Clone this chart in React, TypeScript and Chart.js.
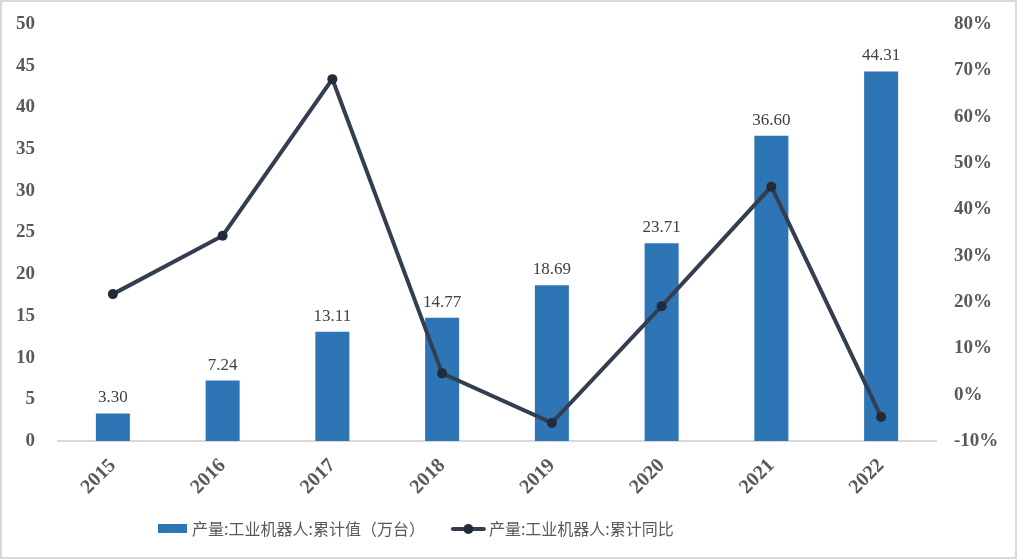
import React, { useEffect, useRef } from 'react';
import { Chart, registerables } from 'chart.js';

Chart.register(...registerables);

const years = ['2015', '2016', '2017', '2018', '2019', '2020', '2021', '2022'];
const output = [3.3, 7.24, 13.11, 14.77, 18.69, 23.71, 36.6, 44.31];
const yoy = [21.7, 34.3, 68.1, 4.6, -6.1, 19.1, 44.9, -4.8];
const barLabel = '产量:工业机器人:累计值（万台）';
const lineLabel = '产量:工业机器人:累计同比';
const leftMin = 0;
const leftMax = 50;
const leftStep = 5;
const rightMin = -10;
const rightMax = 80;
const rightStep = 10;

const BAR_COLOR = '#2E75B6';
const LINE_COLOR = '#333F50';
const DOT_COLOR = '#232B38';
const TEXT_COLOR = '#595959';
const serif = "'Liberation Serif', 'Times New Roman', serif";
const tickFont = { family: serif, size: 19, weight: 'bold' as const };
const xTickFont = { family: serif, size: 20, weight: 'bold' as const };

const borderPlugin = {
  id: 'frame',
  beforeDraw(chart: any) {
    const { ctx, width, height } = chart;
    ctx.save();
    ctx.fillStyle = '#FFFFFF';
    ctx.fillRect(0, 0, width, height);
    ctx.strokeStyle = '#D9D9D9';
    ctx.lineWidth = 2;
    ctx.strokeRect(1, 1, width - 2, height - 2);
    ctx.restore();
  },
};

const labelPlugin = {
  id: 'barLabels',
  afterDatasetsDraw(chart: any) {
    const { ctx } = chart;
    const idx = chart.data.datasets.findIndex((d: any) => d.type === 'bar');
    const meta = chart.getDatasetMeta(idx);
    ctx.save();
    ctx.font = `17px ${serif}`;
    ctx.fillStyle = '#404040';
    ctx.textAlign = 'center';
    ctx.textBaseline = 'bottom';
    meta.data.forEach((el: any, i: number) => {
      const v = chart.data.datasets[idx].data[i] as number;
      ctx.fillText(v.toFixed(2), el.x, el.y - 7);
    });
    ctx.restore();
  },
};

const legendPlugin = {
  id: 'customLegend',
  afterDraw(chart: any) {
    const { ctx } = chart;
    const y = 529;
    let x = 158;
    ctx.save();
    ctx.font = "16px 'Noto Sans CJK SC', sans-serif";
    ctx.textBaseline = 'middle';
    ctx.textAlign = 'left';
    ctx.fillStyle = BAR_COLOR;
    ctx.fillRect(x, y - 5, 29, 9);
    x += 29 + 5;
    ctx.fillStyle = TEXT_COLOR;
    ctx.fillText(barLabel, x, y);
    x += ctx.measureText(barLabel).width + 28;
    ctx.strokeStyle = LINE_COLOR;
    ctx.lineWidth = 4;
    ctx.lineCap = 'round';
    ctx.beginPath();
    ctx.moveTo(x, y);
    ctx.lineTo(x + 31, y);
    ctx.stroke();
    ctx.fillStyle = DOT_COLOR;
    ctx.beginPath();
    ctx.arc(x + 15.5, y, 5, 0, Math.PI * 2);
    ctx.fill();
    x += 31 + 5;
    ctx.fillStyle = TEXT_COLOR;
    ctx.fillText(lineLabel, x, y);
    ctx.restore();
  },
};

export default function App() {
  const ref = useRef<HTMLCanvasElement>(null);
  useEffect(() => {
    document.body.style.margin = '0';
    const chart = new Chart(ref.current as HTMLCanvasElement, {
      data: {
        labels: years,
        datasets: [
          {
            type: 'line',
            label: lineLabel,
            data: yoy,
            yAxisID: 'y1',
            borderColor: LINE_COLOR,
            borderWidth: 4,
            pointRadius: 5,
            pointBackgroundColor: DOT_COLOR,
            pointBorderColor: DOT_COLOR,
            pointBorderWidth: 0,
            tension: 0,
            order: 0,
          },
          {
            type: 'bar',
            label: barLabel,
            data: output,
            yAxisID: 'y',
            backgroundColor: BAR_COLOR,
            barPercentage: 0.31,
            categoryPercentage: 1,
            order: 1,
          },
        ] as any,
      },
      options: {
        responsive: false,
        animation: false,
        layout: { padding: { top: 24, left: 0, right: 0, bottom: 0 } },
        plugins: { legend: { display: false }, tooltip: { enabled: false } },
        scales: {
          x: {
            grid: { display: false, drawTicks: false },
            border: { display: true, color: '#D9D9D9', width: 2 },
            ticks: { font: xTickFont, color: TEXT_COLOR, maxRotation: 45, minRotation: 45, padding: 13 },
            afterFit: (s: any) => { s.height = 118; },
          },
          y: {
            position: 'left',
            min: leftMin,
            max: leftMax,
            grid: { display: false, drawTicks: false },
            border: { display: false },
            ticks: { stepSize: leftStep, font: tickFont, color: TEXT_COLOR, padding: 23 },
            afterFit: (s: any) => { s.width = 58; s.paddingTop = 10; s.paddingBottom = 10; },
          },
          y1: {
            position: 'right',
            min: rightMin,
            max: rightMax,
            grid: { display: false, drawTicks: false },
            border: { display: false },
            ticks: { stepSize: rightStep, font: tickFont, color: TEXT_COLOR, padding: 18, callback: (v: any) => v + '%' },
            afterFit: (s: any) => { s.width = 81; s.paddingTop = 10; s.paddingBottom = 10; },
          },
        },
      } as any,
      plugins: [borderPlugin, labelPlugin, legendPlugin],
    });
    return () => chart.destroy();
  }, []);
  return (
    <div style={{ position: 'absolute', left: 0, top: 0, width: 1017, height: 559 }}>
      <canvas ref={ref} width={1017} height={559} style={{ display: 'block' }} />
    </div>
  );
}
